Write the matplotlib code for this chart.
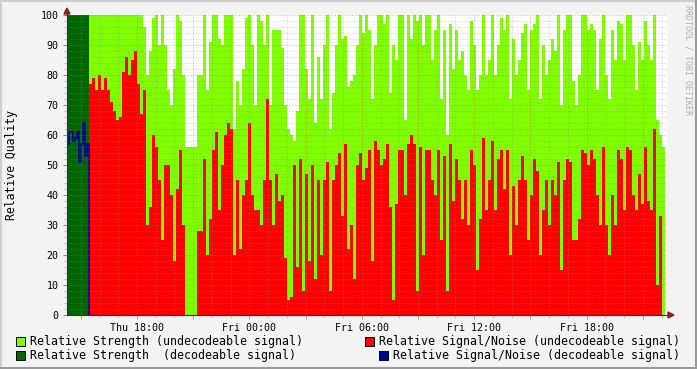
import matplotlib
matplotlib.use('Agg')
import matplotlib.pyplot as plt
from matplotlib.patches import Rectangle, Polygon
from matplotlib.lines import Line2D
import numpy as np

# ---------------- data (hours relative to Thu 18:00) ----------------
dec_start = -3.74          # start of decodeable-signal period
dec_end = -2.56            # end of decodeable period / start of undecodeable
undec_step = 0.16          # hours per sample (undecodeable)
blue_step = 0.10727        # hours per sample (decodeable S/N)

# Relative Signal/Noise (decodeable signal)
sn_decodeable = [57, 61, 61, 58, 59, 61, 51, 57, 64, 53, 57]
# Relative Strength (decodeable signal)
strength_decodeable = [100]

# Relative Strength (undecodeable signal)
strength_undec = [
    100, 100, 100, 100, 100, 100, 100, 100, 100, 100, 100, 100, 100, 100, 100, 100, 100, 100,
    96, 80, 88, 99, 100, 90, 100, 90, 75, 70, 82, 100, 98, 80,
    56, 56, 56, 56,
    80, 80, 100, 75, 91, 100, 100, 92, 90, 100, 100, 100, 62, 78, 70, 82, 99, 100, 90, 70,
    100, 98, 90, 100, 70, 95, 95, 95, 89,
    70, 62, 60, 58, 68, 100, 100, 82, 72, 100, 64, 86, 72, 90, 100, 62, 74, 90, 100, 92,
    93, 76, 78, 80, 90, 100, 94, 100, 95, 72, 90, 100, 100,
    97, 100, 74, 90, 85, 100, 100, 65, 100, 92, 100, 98, 100, 90, 100, 100, 85, 95, 100, 72,
    95, 60, 97, 82, 95, 85, 88, 80, 75, 98, 90, 75, 80, 100,
    80, 85, 100, 80, 90, 99, 95, 100, 72, 92, 80, 85, 94, 97, 75, 95, 97, 100, 72, 90,
    80, 85, 92, 88, 100, 70, 95, 100, 100, 78, 70, 80, 100,
    100, 95, 97, 95, 75, 92, 100, 80, 72, 95, 85, 98, 97, 85, 100, 100, 90, 75, 91, 85,
    98, 90, 85, 100, 65, 60, 56,
]
# Relative Signal/Noise (undecodeable signal)
sn_undec = [
    77, 79, 75, 80, 75, 79, 75, 71, 68, 65, 66, 81, 86, 80, 85, 88, 77, 67, 75,
    30, 36, 60, 56, 45, 25, 50, 50, 40, 18, 42, 55, 30,
    0, 0, 0, 0,
    28, 28, 52, 20, 32, 55, 61, 35, 50, 60, 64, 62, 20, 45, 22, 40, 45, 64, 40, 35,
    35, 30, 45, 72, 45, 30, 47, 38, 40,
    19, 5, 6, 50, 16, 52, 8, 47, 18, 50, 12, 45, 20, 45, 51, 8, 45, 50, 54, 33,
    57, 22, 30, 12, 50, 54, 45, 49, 55, 18, 58, 55, 50,
    52, 57, 36, 5, 37, 55, 55, 40, 57, 60, 57, 8, 56, 20, 55, 55, 45, 40, 55, 25,
    53, 8, 57, 38, 52, 45, 32, 45, 30, 55, 50, 15, 32, 59,
    35, 45, 58, 35, 52, 55, 42, 55, 20, 43, 30, 45, 53, 45, 25, 40, 52, 48, 20, 35,
    45, 30, 45, 40, 51, 15, 45, 52, 51, 25, 25, 32, 55,
    54, 50, 55, 52, 40, 30, 56, 30, 20, 40, 30, 55, 52, 35, 56, 55, 40, 35, 47, 37,
    56, 38, 35, 62, 10, 33, 0,
]

y_ticks = [0, 10, 20, 30, 40, 50, 60, 70, 80, 90, 100]
x_label_hours = [0, 6, 12, 18, 24]
x_labels = ['Thu 18:00', 'Fri 00:00', 'Fri 06:00', 'Fri 12:00', 'Fri 18:00']
legend_labels = ['Relative Strength (undecodeable signal)',
                 'Relative Signal/Noise (undecodeable signal)',
                 'Relative Strength  (decodeable signal)',
                 'Relative Signal/Noise (decodeable signal)']

# ---------------- style ----------------
C_GREEN = '#80FF00'
C_RED = '#FF0000'
C_DKGREEN = '#006600'
C_BLUE = '#000099'
MONO = 'DejaVu Sans Mono'

W, H, DPI = 697, 369, 100
fig = plt.figure(figsize=(W / DPI, H / DPI), dpi=DPI, facecolor='#F3F3F3')

L, R, T, B = 67, 667, 15, 315
PX_PER_H = 112.4 / 6
X0 = 137  # pixel of Thu 18:00
ax = fig.add_axes([L / W, 1 - B / H, (R - L) / W, (B - T) / H])
ax.set_facecolor('white')
ax.set_xlim((L - X0) / PX_PER_H, (R - X0) / PX_PER_H)
ax.set_ylim(0, 100)

# data marks
e_undec = dec_end + undec_step * np.arange(len(strength_undec) + 1)
ax.stairs(strength_undec, e_undec, fill=True, color=C_GREEN, lw=0, zorder=2)
ax.stairs(sn_undec, e_undec, fill=True, color=C_RED, lw=0, zorder=3)
e_dec = np.array([dec_start, dec_end])
ax.stairs(strength_decodeable, e_dec, fill=True, color=C_DKGREEN, lw=0, zorder=2)
e_blue = dec_start + blue_step * np.arange(len(sn_decodeable) + 1)
bx = np.repeat(e_blue, 2)[1:-1]
by = np.repeat(sn_decodeable, 2)
bx = np.concatenate([bx, [e_blue[-1]]])
by = np.concatenate([by, [0]])
ax.plot(bx, by, color=C_BLUE, lw=1.2, zorder=4, solid_joinstyle='miter')

# grid (drawn over data, like rrdtool)
minor_c = (0.55, 0.55, 0.55, 0.45)
major_c = (0.85, 0.35, 0.35, 0.55)
for v in range(2, 101, 2):
    ax.axhline(v, color=major_c if v % 10 == 0 else minor_c, lw=0.72,
               ls=(0, (1, 2)), zorder=5)
for h in range(-3, 29):
    ax.axvline(h, color=major_c if h % 3 == 0 else minor_c, lw=0.72,
               ls=(0, (1, 2)), zorder=5)

# axes / ticks
for s in ['top', 'right']:
    ax.spines[s].set_visible(False)
for s in ['left', 'bottom']:
    ax.spines[s].set_color('#333333')
    ax.spines[s].set_linewidth(0.8)
    ax.spines[s].set_zorder(6)
ax.set_yticks(y_ticks)
ax.set_yticklabels([str(v) for v in y_ticks], fontfamily=MONO, fontsize=7.2)
ax.set_yticks(range(0, 101, 2), minor=True)
ax.tick_params(axis='y', which='major', length=3, width=0.7, color='#888888', pad=3)
ax.tick_params(axis='y', which='minor', length=2, width=0.6, color='#BBBBBB')
ax.set_xticks(list(range(-3, 29, 3)))
ax.set_xticklabels([x_labels[x_label_hours.index(h)] if h in x_label_hours else ''
                    for h in range(-3, 29, 3)], fontfamily=MONO, fontsize=7.2)
ax.set_xticks(list(range(-3, 29)), minor=True)
ax.tick_params(axis='x', which='major', length=3, width=0.7, color='#CC8888', pad=3)
ax.tick_params(axis='x', which='minor', length=2, width=0.6, color='#BBBBBB')

# arrows
def px(x, y):
    return (x / W, 1 - y / H)
fig.patches.append(Polygon([px(64, 14), px(70, 14), px(67, 8)], closed=True,
                           transform=fig.transFigure, color='#882222', zorder=10))
fig.patches.append(Polygon([px(668, 312), px(668, 318), px(674, 315)], closed=True,
                           transform=fig.transFigure, color='#882222', zorder=10))
fig.lines.append(Line2D([px(667, 315)[0], px(670, 315)[0]], [px(0, 315)[1]] * 2,
                        transform=fig.transFigure, color='#333333', lw=0.8))
fig.lines.append(Line2D([px(67, 0)[0]] * 2, [px(0, 15)[1], px(0, 12)[1]],
                        transform=fig.transFigure, color='#333333', lw=0.8))

# labels
fig.text(*px(12, 165), 'Relative Quality', rotation=90, ha='center', va='center',
         fontfamily=MONO, fontsize=8.3, color='black')
fig.text(*px(688, 5), 'RRDTOOL / TOBI OETIKER', rotation=270, ha='center', va='top',
         fontfamily=MONO, fontsize=6.0, color='#B0B0B0')

# legend
legend_colors = [C_GREEN, C_RED, C_DKGREEN, C_BLUE]
legend_pos = [(16, 341), (365, 341), (16, 355), (379, 355)]
for lab, col, (x, y) in zip(legend_labels, legend_colors, legend_pos):
    fig.patches.append(Rectangle(px(x, y + 4.5), 9 / W, 9 / H, transform=fig.transFigure,
                                 facecolor=col, edgecolor='black', lw=0.7))
    fig.text(*px(x + 14, y + 0.5), lab, ha='left', va='center', fontfamily=MONO,
             fontsize=8.4, color='black')

# frame
fig.lines.append(Line2D([0, 1], [1 - 1 / H] * 2, transform=fig.transFigure, color='#CFCFCF', lw=1.5))
fig.lines.append(Line2D([1 / W] * 2, [0, 1], transform=fig.transFigure, color='#CFCFCF', lw=1.5))
fig.lines.append(Line2D([0, 1], [1 / H] * 2, transform=fig.transFigure, color='#9A9A9A', lw=1.5))
fig.lines.append(Line2D([1 - 1 / W] * 2, [0, 1], transform=fig.transFigure, color='#9A9A9A', lw=1.5))

fig.savefig('out.png', dpi=DPI, facecolor=fig.get_facecolor())
